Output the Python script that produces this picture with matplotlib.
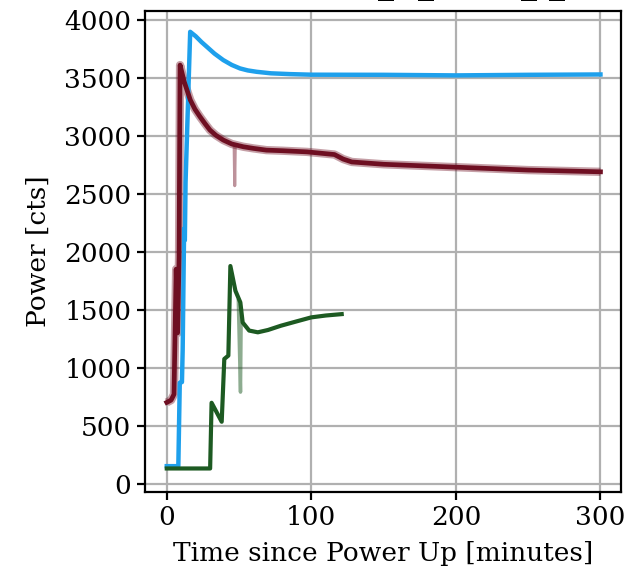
import matplotlib
matplotlib.use("Agg")
import matplotlib.pyplot as plt

# ---- data ----
blue_t = [0, 4, 8, 9, 10.5, 11, 12, 12.5, 13, 16.2, 20, 24, 27.7, 33, 39.1, 45, 50.7, 56, 62.2, 72, 85.3, 100, 150, 200, 250, 300]
blue_p = [150, 150, 150, 870, 875, 1150, 2200, 2100, 2600, 3898, 3860, 3810, 3769, 3710, 3654, 3612, 3582, 3565, 3553, 3540, 3533, 3528, 3527, 3522, 3527, 3530]

red_t = [0, 3, 5, 6.5, 7.5, 8, 8.5, 9.2, 12, 16.3, 19.5, 23, 26.5, 29.9, 34, 39.1, 45, 53, 60, 69, 80, 97, 116, 122, 128, 150, 200, 250, 300]
red_p = [700, 720, 770, 1850, 1300, 1600, 1950, 3611, 3470, 3309, 3230, 3165, 3105, 3050, 3005, 2964, 2930, 2906, 2892, 2877, 2872, 2862, 2839, 2800, 2775, 2755, 2730, 2705, 2690]

red_spike_t = [46.6, 47, 47.4]
red_spike_p = [2925, 2570, 2922]

green_t = [0, 30, 31, 38, 39.8, 42.6, 44, 47.5, 50.9, 52.5, 57, 63, 70, 79, 90, 100, 110, 121]
green_p = [130, 130, 697, 533, 1075, 1104, 1877, 1663, 1563, 1390, 1320, 1305, 1325, 1362, 1400, 1434, 1450, 1462]

green_raw_t = [49.5, 51, 51.5]
green_raw_p = [1580, 789, 1500]

x_ticks = [0, 100, 200, 300]
y_ticks = [0, 500, 1000, 1500, 2000, 2500, 3000, 3500, 4000]

# ---- figure ----
plt.rcParams['font.family'] = ['DejaVu Serif']
fig = plt.figure(figsize=(6.31, 5.74), dpi=100)
ax = fig.add_axes([144.5 / 631, 82 / 574, 476.5 / 631, 481.5 / 574])

blue = '#1ea0ec'
maroon = '#6e0f22'
green = '#1d5a22'

ax.plot(red_t, red_p, color=maroon, lw=6, alpha=0.4, solid_capstyle='butt')
ax.plot(red_spike_t, red_spike_p, color=maroon, lw=2.2, alpha=0.45)
ax.plot(blue_t, blue_p, color=blue, lw=3.2)
ax.plot(red_t, red_p, color=maroon, lw=3.4)
ax.plot(green_raw_t, green_raw_p, color=green, lw=2.5, alpha=0.5)
ax.plot(green_t, green_p, color=green, lw=3.0)

ax.set_xlim(-15.4, 314.2)
ax.set_ylim(-73, 4082)
ax.set_xticks(x_ticks)
ax.set_yticks(y_ticks)
ax.grid(True, color='#b0b0b0', lw=1.6)
ax.set_axisbelow(True)
for s in ax.spines.values():
    s.set_linewidth(1.6)
ax.tick_params(labelsize=19, width=1.6, length=6)
ax.set_xlabel('Time since Power Up [minutes]', fontsize=19, labelpad=8)
ax.set_ylabel('Power [cts]', fontsize=19, labelpad=10)

# clipped title remnants at top edge
for xp in [378, 418, 521, 549]:
    fig.text(xp / 631, 1.012, '_', fontsize=23, ha='left', va='baseline', color='black')

fig.savefig('out.png', dpi=100)
